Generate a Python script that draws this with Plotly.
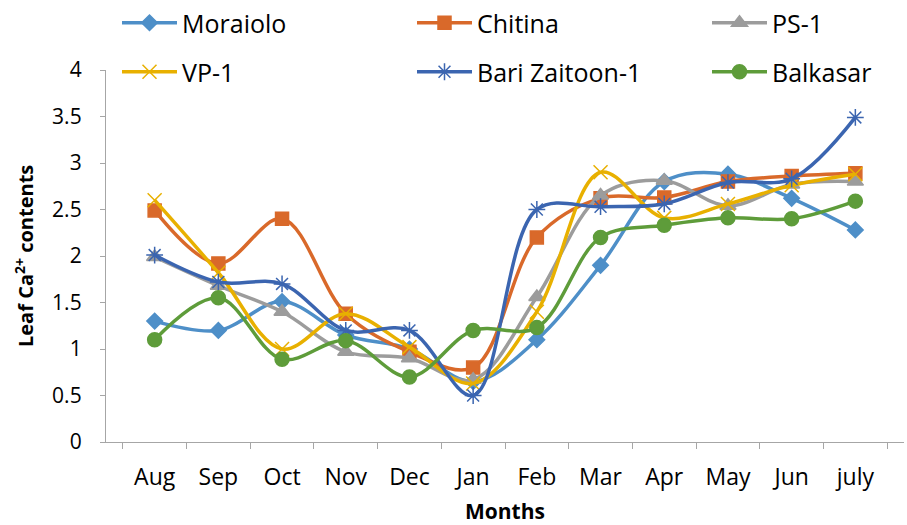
import plotly.graph_objects as go

months = ["Aug", "Sep", "Oct", "Nov", "Dec", "Jan", "Feb", "Mar", "Apr", "May", "Jun", "july"]

moraiolo = [1.30, 1.20, 1.51, 1.15, 1.00, 0.65, 1.10, 1.90, 2.80, 2.88, 2.62, 2.28]
chitina = [2.49, 1.92, 2.40, 1.38, 0.97, 0.80, 2.20, 2.62, 2.63, 2.80, 2.86, 2.89]
ps1 = [1.99, 1.68, 1.40, 0.97, 0.90, 0.67, 1.56, 2.65, 2.81, 2.54, 2.77, 2.80]
vp1 = [2.60, 1.82, 1.00, 1.38, 1.02, 0.63, 1.40, 2.90, 2.41, 2.56, 2.76, 2.88]
bari = [2.01, 1.72, 1.70, 1.20, 1.20, 0.50, 2.50, 2.53, 2.56, 2.79, 2.83, 3.49]
balkasar = [1.10, 1.55, 0.89, 1.09, 0.70, 1.20, 1.23, 2.20, 2.33, 2.41, 2.40, 2.59]

# name, values, colour, marker symbol, marker size
series = [
    ("Moraiolo", moraiolo, "#4E8FC8", "diamond", 12),
    ("Chitina", chitina, "#D9692A", "square", 13),
    ("PS-1", ps1, "#9C9C9C", "triangle-up", 14),
    ("VP-1", vp1, "#E8B000", "x-thin-open", 14),
    ("Bari Zaitoon-1", bari, "#3B65B0", "asterisk-open", 14),
    ("Balkasar", balkasar, "#5E9C3A", "circle", 14),
]

W, H = 907, 525
ML, MR, MT, MB = 106, 3, 70, 83

# legend grid: 3 columns x 2 rows above the plot (container pixels)
legend_cols = [117, 412, 707]
legend_rows = [23, 72]

font_family = "'Open Sans', sans-serif"

fig = go.Figure()
legend_layout = {}
for i, (name, vals, color, sym, size) in enumerate(series):
    leg_id = "legend" if i == 0 else f"legend{i + 1}"
    fig.add_trace(go.Scatter(
        x=months, y=vals, name=name, mode="lines+markers",
        line=dict(color=color, width=3.5, shape="spline", smoothing=1),
        marker=dict(symbol=sym, size=size, color=color,
                    line=dict(color=color, width=1.5)),
        legend=leg_id,
    ))
    col, row = i % 3, i // 3
    legend_layout[leg_id] = dict(
        xref="container", yref="container",
        x=legend_cols[col] / W, y=1 - legend_rows[row] / H,
        xanchor="left", yanchor="middle",
        font=dict(size=25, color="#000", family=font_family),
        itemwidth=55, bgcolor="rgba(0,0,0,0)", borderwidth=0,
    )

fig.update_layout(
    width=W, height=H,
    margin=dict(l=ML, r=MR, t=MT, b=MB, autoexpand=False),
    paper_bgcolor="white", plot_bgcolor="white",
    font=dict(family=font_family, color="#000"),
    showlegend=True,
    xaxis=dict(
        type="category", showline=True, linecolor="#A6A6A6", linewidth=1.3,
        ticks="outside", tickson="boundaries", ticklen=6, tickcolor="#A6A6A6",
        tickfont=dict(size=23), showgrid=False, zeroline=False,
        ticklabelstandoff=14,
        title=dict(text="<b>Months</b>", font=dict(size=21), standoff=14),
    ),
    yaxis=dict(
        range=[0, 4], dtick=0.5, showline=True, linecolor="#A6A6A6", linewidth=1.3,
        ticks="outside", ticklen=5, tickcolor="#A6A6A6",
        tickfont=dict(size=21), showgrid=False, zeroline=False,
        ticklabelstandoff=14,
    ),
    annotations=[dict(
        text="<b>Leaf Ca<sup>2+</sup> contents</b>",
        xref="paper", yref="paper",
        x=(24 - ML) / (W - ML - MR), y=0.5,
        xanchor="center", yanchor="middle", textangle=-90, showarrow=False,
        font=dict(size=20, color="#000", family=font_family),
    )],
    **legend_layout,
)

fig.write_html("out.html")
